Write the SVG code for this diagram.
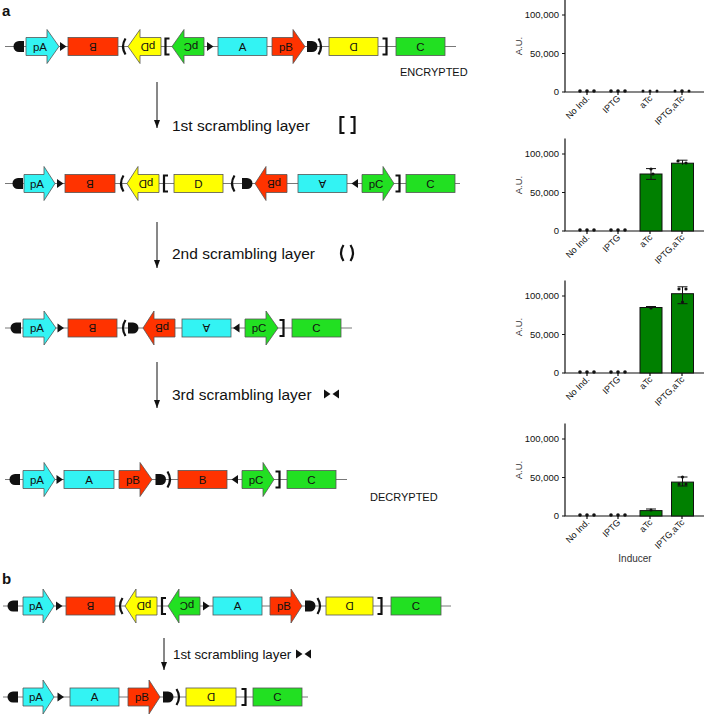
<svg xmlns="http://www.w3.org/2000/svg" xmlns:xlink="http://www.w3.org/1999/xlink" width="704" height="716" viewBox="0 0 704 716">
<style>
text{font-family:"Liberation Sans",Arial,sans-serif;fill:#111}
.bb{font-size:11.5px;text-anchor:middle;dominant-baseline:central}
.bx{stroke:#555;stroke-width:0.8}
.cy{fill:#33f3f3}.rd{fill:#ff3300}.ye{fill:#ffff00}.gr{fill:#22e022}
.ln{stroke:#555;stroke-width:0.8;fill:none}
.br{stroke:#111;stroke-width:2.2;fill:none}
.lbl{font-size:15.5px;dominant-baseline:central}
.lblb{font-size:13.3px;dominant-baseline:central}
.tk{font-size:9.5px;fill:#333}
.ct{font-size:9px;fill:#333}
.ax{stroke:#111;stroke-width:1.2;fill:none}
.bar{fill:#008000;stroke:#111;stroke-width:1}
.eb{stroke:#111;stroke-width:1;fill:none}
.big{font-size:15px;font-weight:bold}
</style>
<defs>
<path id="termR" d="M-5,-5.5 H0 A5.5,5.5 0 0 1 0,5.5 H-5 Z" fill="#111"/>
<path id="triR" d="M-3,-4.5 L3.5,0 L-3,4.5 Z" fill="#111"/>
<path id="brL" d="M2.5,-8 Q-2.5,0 2.5,8" class="br"/>
<path id="sqL" d="M3.5,-8 H-0.5 V8 H3.5" class="br"/>
<marker id="ah" markerWidth="8" markerHeight="6" refX="8" refY="3" orient="auto" markerUnits="userSpaceOnUse" viewBox="0 0 8 6">
<path d="M0,0 L8,3 L0,6 Z" fill="#111" stroke="none"/>
</marker>
</defs>

<text x="2" y="16" class="big">a</text>
<text x="2" y="584" class="big">b</text>

<!-- Row 1 -->
<g id="row1">
<line x1="5" y1="46.5" x2="456" y2="46.5" class="ln"/>
<use href="#termR" transform="translate(19,46.5) scale(-1,1)"/>
<g id="r1-pA"><path class="cy bx" d="M26,37.5 H47 V29.5 L59,46.5 L47,63.5 V55.5 H26 Z"/><text x="40" y="46.5" class="bb">pA</text></g>
<use href="#triR" transform="translate(63,46.5)"/>
<g id="r1-B"><rect class="rd bx" x="68" y="37.5" width="50" height="18"/><text x="93" y="46.5" class="bb" transform="rotate(180 93 46.5)">B</text></g>
<use href="#brL" transform="translate(123,46.5)"/>
<g id="r1-pD"><path class="ye bx" d="M161,37.5 H140 V29.5 L128,46.5 L140,63.5 V55.5 H161 Z"/><text x="148" y="46.5" class="bb" transform="rotate(180 148 46.5)">pD</text></g>
<use href="#sqL" transform="translate(166,46.5)"/>
<g id="r1-pC"><path class="gr bx" d="M204,37.5 H184 V29.5 L172,46.5 L184,63.5 V55.5 H204 Z"/><text x="191" y="46.5" class="bb" transform="rotate(180 191 46.5)">pC</text></g>
<use href="#triR" transform="translate(210,46.5)"/>
<g id="r1-A"><rect class="cy bx" x="218" y="37.5" width="49" height="18"/><text x="242.5" y="46.5" class="bb">A</text></g>
<g id="r1-pB"><path class="rd bx" d="M272,37.5 H293 V29.5 L305,46.5 L293,63.5 V55.5 H272 Z"/><text x="286" y="46.5" class="bb">pB</text></g>
<use href="#termR" transform="translate(312,46.5)"/>
<use href="#brL" transform="translate(321,46.5) scale(-1,1)"/>
<g id="r1-D"><rect class="ye bx" x="329" y="37.5" width="49" height="18"/><text x="353.5" y="46.5" class="bb" transform="rotate(180 353.5 46.5)">D</text></g>
<use href="#sqL" transform="translate(386,46.5) scale(-1,1)"/>
<g id="r1-C"><rect class="gr bx" x="396" y="37.5" width="49" height="18"/><text x="420.5" y="46.5" class="bb">C</text></g>
<text x="400" y="76" style="font-size:11px">ENCRYPTED</text>
</g>

<!-- Row 2 -->
<g id="row2">
<line x1="5" y1="183.5" x2="460" y2="183.5" class="ln"/>
<use href="#termR" transform="translate(18,183.5) scale(-1,1)"/>
<g id="r2-pA"><path class="cy bx" d="M24,174.5 H44 V166.5 L55,183.5 L44,200.5 V192.5 H24 Z"/><text x="37" y="183.5" class="bb">pA</text></g>
<use href="#triR" transform="translate(60,183.5)"/>
<g id="r2-B"><rect class="rd bx" x="65" y="174.5" width="50" height="18"/><text x="90" y="183.5" class="bb" transform="rotate(180 90 183.5)">B</text></g>
<use href="#brL" transform="translate(121,183.5)"/>
<g id="r2-pD"><path class="ye bx" d="M159,174.5 H138 V166.5 L127,183.5 L138,200.5 V192.5 H159 Z"/><text x="146" y="183.5" class="bb" transform="rotate(180 146 183.5)">pD</text></g>
<use href="#sqL" transform="translate(164.5,183.5)"/>
<g id="r2-D"><rect class="ye bx" x="174" y="174.5" width="49" height="18"/><text x="198.5" y="183.5" class="bb">D</text></g>
<use href="#brL" transform="translate(232,183.5)"/>
<use href="#termR" transform="translate(247,183.5)"/>
<g id="r2-pB"><path class="rd bx" d="M287,174.5 H266 V166.5 L255,183.5 L266,200.5 V192.5 H287 Z"/><text x="274" y="183.5" class="bb" transform="rotate(180 274 183.5)">pB</text></g>
<g id="r2-A"><rect class="cy bx" x="298" y="174.5" width="49" height="18"/><text x="322.5" y="183.5" class="bb" transform="rotate(180 322.5 183.5)">A</text></g>
<use href="#triR" transform="translate(355,183.5) scale(-1,1)"/>
<g id="r2-pC"><path class="gr bx" d="M362,174.5 H383 V166.5 L394,183.5 L383,200.5 V192.5 H362 Z"/><text x="376" y="183.5" class="bb">pC</text></g>
<use href="#sqL" transform="translate(399,183.5) scale(-1,1)"/>
<g id="r2-C"><rect class="gr bx" x="406" y="174.5" width="49" height="18"/><text x="430.5" y="183.5" class="bb">C</text></g>
</g>

<!-- Row 3 -->
<g id="row3">
<line x1="5" y1="328" x2="352" y2="328" class="ln"/>
<use href="#termR" transform="translate(16,328) scale(-1,1)"/>
<g id="r3-pA"><path class="cy bx" d="M23,319 H44 V311 L56,328 L44,345 V337 H23 Z"/><text x="37" y="328" class="bb">pA</text></g>
<use href="#triR" transform="translate(60.5,328)"/>
<g id="r3-B"><rect class="rd bx" x="68" y="319" width="49" height="18"/><text x="92.5" y="328" class="bb" transform="rotate(180 92.5 328)">B</text></g>
<use href="#brL" transform="translate(123,328)"/>
<use href="#termR" transform="translate(133,328)"/>
<g id="r3-pB"><path class="rd bx" d="M175,319 H154 V311 L143,328 L154,345 V337 H175 Z"/><text x="162" y="328" class="bb" transform="rotate(180 162 328)">pB</text></g>
<g id="r3-A"><rect class="cy bx" x="182" y="319" width="49" height="18"/><text x="206.5" y="328" class="bb" transform="rotate(180 206.5 328)">A</text></g>
<use href="#triR" transform="translate(236.5,328) scale(-1,1)"/>
<g id="r3-pC"><path class="gr bx" d="M245,319 H266 V311 L278,328 L266,345 V337 H245 Z"/><text x="259" y="328" class="bb">pC</text></g>
<use href="#sqL" transform="translate(283,328) scale(-1,1)"/>
<g id="r3-C"><rect class="gr bx" x="292" y="319" width="49" height="18"/><text x="316.5" y="328" class="bb">C</text></g>
</g>

<!-- Row 4 -->
<g id="row4">
<line x1="5" y1="479.5" x2="347" y2="479.5" class="ln"/>
<use href="#termR" transform="translate(15,479.5) scale(-1,1)"/>
<g id="r4-pA"><path class="cy bx" d="M23,470.5 H44 V462.5 L55,479.5 L44,496.5 V488.5 H23 Z"/><text x="37" y="479.5" class="bb">pA</text></g>
<use href="#triR" transform="translate(59.5,479.5)"/>
<g id="r4-A"><rect class="cy bx" x="64" y="470.5" width="50" height="18"/><text x="89" y="479.5" class="bb">A</text></g>
<g id="r4-pB"><path class="rd bx" d="M119,470.5 H140 V462.5 L152,479.5 L140,496.5 V488.5 H119 Z"/><text x="133" y="479.5" class="bb">pB</text></g>
<use href="#termR" transform="translate(160.5,479.5)"/>
<use href="#brL" transform="translate(170,479.5) scale(-1,1)"/>
<g id="r4-B"><rect class="rd bx" x="178" y="470.5" width="49" height="18"/><text x="202.5" y="479.5" class="bb">B</text></g>
<use href="#triR" transform="translate(235,479.5) scale(-1,1)"/>
<g id="r4-pC"><path class="gr bx" d="M242,470.5 H263 V462.5 L274,479.5 L263,496.5 V488.5 H242 Z"/><text x="256" y="479.5" class="bb">pC</text></g>
<use href="#sqL" transform="translate(279,479.5) scale(-1,1)"/>
<g id="r4-C"><rect class="gr bx" x="287" y="470.5" width="49" height="18"/><text x="311.5" y="479.5" class="bb">C</text></g>
<text x="370" y="501" style="font-size:11px">DECRYPTED</text>
</g>

<!-- Row b1 -->
<g id="rowb1">
<line x1="3" y1="606" x2="451" y2="606" class="ln"/>
<use href="#termR" transform="translate(13,606) scale(-1,1)"/>
<g id="b1-pA"><path class="cy bx" d="M23,597 H43 V589 L54,606 L43,623 V615 H23 Z"/><text x="36" y="606" class="bb">pA</text></g>
<use href="#triR" transform="translate(59,606)"/>
<g id="b1-B"><rect class="rd bx" x="66" y="597" width="49" height="18"/><text x="90.5" y="606" class="bb" transform="rotate(180 90.5 606)">B</text></g>
<use href="#brL" transform="translate(120,606)"/>
<g id="b1-pD"><path class="ye bx" d="M157,597 H136 V589 L125,606 L136,623 V615 H157 Z"/><text x="144" y="606" class="bb" transform="rotate(180 144 606)">pD</text></g>
<use href="#sqL" transform="translate(162.5,606)"/>
<g id="b1-pC"><path class="gr bx" d="M200,597 H179 V589 L168,606 L179,623 V615 H200 Z"/><text x="187" y="606" class="bb" transform="rotate(180 187 606)">pC</text></g>
<use href="#triR" transform="translate(206,606)"/>
<g id="b1-A"><rect class="cy bx" x="213" y="597" width="49" height="18"/><text x="237.5" y="606" class="bb">A</text></g>
<g id="b1-pB"><path class="rd bx" d="M270,597 H291 V589 L302,606 L291,623 V615 H270 Z"/><text x="284" y="606" class="bb">pB</text></g>
<use href="#termR" transform="translate(310,606)"/>
<use href="#brL" transform="translate(320,606) scale(-1,1)"/>
<g id="b1-D"><rect class="ye bx" x="326" y="597" width="47" height="18"/><text x="349.5" y="606" class="bb" transform="rotate(180 349.5 606)">D</text></g>
<use href="#sqL" transform="translate(381,606) scale(-1,1)"/>
<g id="b1-C"><rect class="gr bx" x="391" y="597" width="50" height="18"/><text x="416" y="606" class="bb">C</text></g>
</g>

<!-- Row b2 -->
<g id="rowb2">
<line x1="3" y1="697" x2="308" y2="697" class="ln"/>
<use href="#termR" transform="translate(13,697) scale(-1,1)"/>
<g id="b2-pA"><path class="cy bx" d="M23,688 H43 V680 L54,697 L43,714 V706 H23 Z"/><text x="36" y="697" class="bb">pA</text></g>
<use href="#triR" transform="translate(60.5,697)"/>
<g id="b2-A"><rect class="cy bx" x="70" y="688" width="49" height="18"/><text x="94.5" y="697" class="bb">A</text></g>
<g id="b2-pB"><path class="rd bx" d="M128,688 H149 V680 L160,697 L149,714 V706 H128 Z"/><text x="142" y="697" class="bb">pB</text></g>
<use href="#termR" transform="translate(168,697)"/>
<use href="#brL" transform="translate(179,697) scale(-1,1)"/>
<g id="b2-D"><rect class="ye bx" x="186" y="688" width="50" height="18"/><text x="211" y="697" class="bb" transform="rotate(180 211 697)">D</text></g>
<use href="#sqL" transform="translate(245,697) scale(-1,1)"/>
<g id="b2-C"><rect class="gr bx" x="253" y="688" width="49" height="18"/><text x="277.5" y="697" class="bb">C</text></g>
</g>

<!-- connectors -->
<g id="connectors" stroke="#111" stroke-width="1" fill="none">
<line x1="157" y1="82" x2="157" y2="128" marker-end="url(#ah)"/>
<line x1="157" y1="222" x2="157" y2="268" marker-end="url(#ah)"/>
<line x1="157" y1="362" x2="157" y2="408" marker-end="url(#ah)"/>
<line x1="164" y1="638" x2="164" y2="670" marker-end="url(#ah)"/>
</g>

<g id="step-labels">
<text x="172" y="125" class="lbl">1st scrambling layer</text>
<use href="#sqL" transform="translate(341,125)"/>
<use href="#sqL" transform="translate(354,125) scale(-1,1)"/>
<text x="172" y="253" class="lbl">2nd scrambling layer</text>
<use href="#brL" transform="translate(341,253)"/>
<use href="#brL" transform="translate(353,253) scale(-1,1)"/>
<text x="172" y="394" class="lbl">3rd scrambling layer</text>
<use href="#triR" transform="translate(327,394)"/>
<use href="#triR" transform="translate(336,394) scale(-1,1)"/>
<text x="173" y="654" class="lblb">1st scrambling layer</text>
<use href="#triR" transform="translate(299,654)"/>
<use href="#triR" transform="translate(308,654) scale(-1,1)"/>
</g>

<!-- Charts -->
<g id="chart1" transform="translate(0,92)">
<path class="ax" d="M565,-92.4 V0 H704"/>
<path class="ax" d="M562,-77 H565 M562,-38.5 H565 M562,0 H565 M587,0 V3 M618,0 V3 M650,0 V3 M682,0 V3"/>
<g class="tk" text-anchor="end"><text x="559" y="-74">100,000</text><text x="559" y="-35.5">50,000</text><text x="559" y="3">0</text></g>
<text class="tk" transform="translate(522,-46) rotate(-90)" text-anchor="middle">A.U.</text>
<g fill="#111"><circle cx="580" cy="-1" r="1.8"/><circle cx="587" cy="-1" r="1.8"/><circle cx="594" cy="-1" r="1.8"/><circle cx="611" cy="-1" r="1.8"/><circle cx="618" cy="-1" r="1.8"/><circle cx="625" cy="-1" r="1.8"/><circle cx="643" cy="-1" r="1.5"/><circle cx="650" cy="-1" r="1.5"/><circle cx="657" cy="-1" r="1.5"/><circle cx="675" cy="-1" r="1.5"/><circle cx="682" cy="-1" r="1.8"/><circle cx="689" cy="-1" r="1.5"/></g>
<g class="ct" text-anchor="end"><text transform="translate(590,7) rotate(-45)">No Ind.</text><text transform="translate(621,7) rotate(-45)">IPTG</text><text transform="translate(653,7) rotate(-45)">aTc</text><text transform="translate(685,7) rotate(-45)">IPTG,aTc</text></g>
</g>

<g id="chart2" transform="translate(0,231)">
<path class="ax" d="M565,-92.4 V0 H704"/>
<path class="ax" d="M562,-77 H565 M562,-38.5 H565 M562,0 H565 M587,0 V3 M618,0 V3 M650,0 V3 M682,0 V3"/>
<g class="tk" text-anchor="end"><text x="559" y="-74">100,000</text><text x="559" y="-35.5">50,000</text><text x="559" y="3">0</text></g>
<text class="tk" transform="translate(522,-46) rotate(-90)" text-anchor="middle">A.U.</text>
<rect class="bar" x="640" y="-57" width="22" height="57"/>
<rect class="bar" x="671.5" y="-67.8" width="22" height="67.8"/>
<path class="eb" d="M651,-62.4 V-51.6 M646,-62.4 H656 M646,-51.6 H656 M682.5,-70.8 V-66.2 M677.5,-70.8 H687.5"/>
<g fill="#111"><circle cx="580" cy="-1" r="1.8"/><circle cx="587" cy="-1" r="1.8"/><circle cx="594" cy="-1" r="1.8"/><circle cx="611" cy="-1" r="1.8"/><circle cx="618" cy="-1" r="1.8"/><circle cx="625" cy="-1" r="1.8"/><circle cx="651" cy="-62" r="1.6"/><circle cx="653" cy="-57" r="1.6"/><circle cx="678" cy="-70" r="1.6"/><circle cx="686" cy="-68" r="1.6"/></g>
<g class="ct" text-anchor="end"><text transform="translate(590,7) rotate(-45)">No Ind.</text><text transform="translate(621,7) rotate(-45)">IPTG</text><text transform="translate(653,7) rotate(-45)">aTc</text><text transform="translate(685,7) rotate(-45)">IPTG,aTc</text></g>
</g>

<g id="chart3" transform="translate(0,373)">
<path class="ax" d="M565,-92.4 V0 H704"/>
<path class="ax" d="M562,-77 H565 M562,-38.5 H565 M562,0 H565 M587,0 V3 M618,0 V3 M650,0 V3 M682,0 V3"/>
<g class="tk" text-anchor="end"><text x="559" y="-74">100,000</text><text x="559" y="-35.5">50,000</text><text x="559" y="3">0</text></g>
<text class="tk" transform="translate(522,-46) rotate(-90)" text-anchor="middle">A.U.</text>
<rect class="bar" x="640" y="-65.5" width="22" height="65.5"/>
<rect class="bar" x="671.5" y="-79.3" width="22" height="79.3"/>
<path class="eb" d="M646,-66.5 H656 M682.5,-86.2 V-69.3 M677.5,-86.2 H687.5 M677.5,-69.3 H687.5"/>
<g fill="#111"><circle cx="580" cy="-1" r="1.8"/><circle cx="587" cy="-1" r="1.8"/><circle cx="594" cy="-1" r="1.8"/><circle cx="611" cy="-1" r="1.8"/><circle cx="618" cy="-1" r="1.8"/><circle cx="625" cy="-1" r="1.8"/><circle cx="651" cy="-65" r="1.6"/><circle cx="679" cy="-84" r="1.6"/><circle cx="686" cy="-84" r="1.6"/><circle cx="682.5" cy="-71" r="1.6"/></g>
<g class="ct" text-anchor="end"><text transform="translate(590,7) rotate(-45)">No Ind.</text><text transform="translate(621,7) rotate(-45)">IPTG</text><text transform="translate(653,7) rotate(-45)">aTc</text><text transform="translate(685,7) rotate(-45)">IPTG,aTc</text></g>
</g>

<g id="chart4" transform="translate(0,516)">
<path class="ax" d="M565,-92.4 V0 H704"/>
<path class="ax" d="M562,-77 H565 M562,-38.5 H565 M562,0 H565 M587,0 V3 M618,0 V3 M650,0 V3 M682,0 V3"/>
<g class="tk" text-anchor="end"><text x="559" y="-74">100,000</text><text x="559" y="-35.5">50,000</text><text x="559" y="3">0</text></g>
<text class="tk" transform="translate(522,-46) rotate(-90)" text-anchor="middle">A.U.</text>
<rect class="bar" x="640" y="-5.4" width="22" height="5.4"/>
<rect class="bar" x="671.5" y="-33.9" width="22" height="33.9"/>
<path class="eb" d="M646,-7 H656 M682.5,-39 V-30 M677.5,-39 H687.5 M677.5,-30 H687.5"/>
<g fill="#111"><circle cx="580" cy="-1" r="1.8"/><circle cx="587" cy="-1" r="1.8"/><circle cx="594" cy="-1" r="1.8"/><circle cx="611" cy="-1" r="1.8"/><circle cx="618" cy="-1" r="1.8"/><circle cx="625" cy="-1" r="1.8"/><circle cx="651" cy="-6" r="1.5"/><circle cx="682.5" cy="-39" r="1.6"/><circle cx="679" cy="-32" r="1.5"/><circle cx="686" cy="-32" r="1.5"/></g>
<g class="ct" text-anchor="end"><text transform="translate(590,7) rotate(-45)">No Ind.</text><text transform="translate(621,7) rotate(-45)">IPTG</text><text transform="translate(653,7) rotate(-45)">aTc</text><text transform="translate(685,7) rotate(-45)">IPTG,aTc</text></g>
<text x="635" y="46" style="font-size:10px;fill:#333" text-anchor="middle">Inducer</text>
</g>
</svg>
